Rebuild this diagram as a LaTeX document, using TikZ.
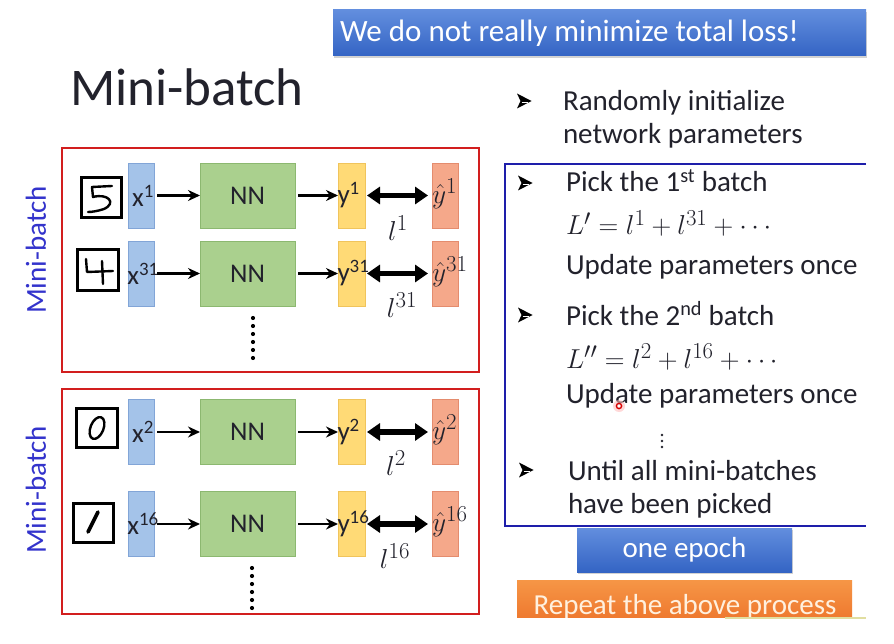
\documentclass[tikz,border=0pt]{standalone}
\usepackage{fontspec}
\setmainfont{Carlito}
\usetikzlibrary{arrows.meta,shadows}
\definecolor{xfill}{RGB}{164,195,233}
\definecolor{xline}{RGB}{130,165,215}
\definecolor{nfill}{RGB}{170,208,142}
\definecolor{nline}{RGB}{140,184,112}
\definecolor{yfill}{RGB}{255,218,118}
\definecolor{yline}{RGB}{240,196,92}
\definecolor{hfill}{RGB}{245,168,138}
\definecolor{hline}{RGB}{228,140,110}
\definecolor{tdark}{RGB}{34,34,44}
\definecolor{redbox}{RGB}{210,30,30}
\definecolor{bluebox}{RGB}{30,30,170}
\definecolor{mbblue}{RGB}{51,51,204}
\definecolor{titletop}{RGB}{98,142,222}
\definecolor{titlebot}{RGB}{52,100,196}
\definecolor{ortop}{RGB}{246,150,70}
\definecolor{orbot}{RGB}{236,112,40}
\definecolor{ortext}{RGB}{255,240,222}
\definecolor{edgeline}{RGB}{225,222,160}
\newcommand\mmath[1]{\scalebox{1.1}{\fontsize{24.88}{30}\selectfont$#1$}}
\newcommand\mbrow[4]{%
  \node[xbox] (#1x) at (141,#2) {};
  \node[lbl] (#1xt) at (143,#2) {x\textsuperscript{#3}};
  \node[nnbox] (#1n) at (247.5,#2) {NN};
  \node[ybox] (#1y) at (351.5,#2) {};
  \node[lbl, anchor=west] (#1yt) at (337.5,#2) {y\textsuperscript{#3}};
  \node[hbox] (#1h) at (445,#2) {};
  \node[lbl, anchor=west] (#1ht) at (432,#2-2) {\mmath{\hat{y}^{#3}}};
  \draw[sarrow] (#1x) -- (#1n);
  \draw[sarrow] (#1n) -- (#1y);
  \draw[darrow] (#1y) -- (#1h);
  \node[lbl] (#1l) at (#4) {\mmath{l^{#3}}};
}
\begin{document}
\begin{tikzpicture}[x=1pt,y=-1pt,
  every node/.style={inner sep=0pt, outer sep=0pt},
  xbox/.style={draw=xline, fill=xfill, line width=0.8pt, minimum width=26pt, minimum height=65pt},
  nnbox/.style={draw=nline, fill=nfill, line width=0.8pt, minimum width=95pt, minimum height=65pt, font=\fontsize{27}{30}\selectfont, text=tdark},
  ybox/.style={draw=yline, fill=yfill, line width=0.8pt, minimum width=27pt, minimum height=65pt},
  hbox/.style={draw=hline, fill=hfill, line width=0.8pt, minimum width=26pt, minimum height=65pt},
  lbl/.style={font=\fontsize{27}{30}\selectfont, text=tdark},
  sarrow/.style={-{Stealth[length=12pt,width=11pt]}, line width=2.2pt, shorten <=3pt},
  darrow/.style={{Triangle[length=13pt,width=17pt]}-{Triangle[length=13pt,width=17pt]}, line width=5.5pt, shorten <=2pt, shorten >=4pt},
  digbox/.style={draw=black, line width=3pt, minimum width=40pt, minimum height=40pt},
  digit/.style={line width=2.4pt, line cap=round, line join=round},
  frame/.style={line width=2.6pt},
  txt/.style={anchor=base west, font=\fontsize{29}{34}\selectfont, text=tdark},
  mathtxt/.style={anchor=base west, text=tdark},
  vlabel/.style={rotate=90, font=\fontsize{29}{34}\selectfont, text=mbblue},
  banner/.style={top color=titletop, bottom color=titlebot, draw=none, text=white, drop shadow={shadow xshift=1pt, shadow yshift=-2pt, opacity=0.35}},
  bul/.pic={\fill[black] (-7,-7.5) -- (7.5,0) -- (-7,7.5) -- (-3.5,0) -- cycle;
            \draw[white, line width=0.7pt] (-2.5,1.3) -- (4,1.3);}
]
\useasboundingbox (0,0) rectangle (894,644);
\fill[white] (0,0) rectangle (894,644);

% title banner
\node[banner, minimum width=533pt, minimum height=46pt] (title) at (599.5,33) {};
\node[anchor=west, font=\fontsize{31}{36}\selectfont, text=white] (titletext) at (340,33) {We do not really minimize total loss!};

% heading
\node[anchor=base west, font=\fontsize{53}{60}\selectfont, text=tdark] (heading) at (70,106) {Mini-batch};

% red frames
\draw[redbox, frame] (62,148) rectangle (479,372);
\draw[redbox, frame] (62,389) rectangle (479,614);

\node[vlabel] (mb1) at (36,250) {Mini-batch};
\node[vlabel] (mb2) at (36,490) {Mini-batch};

% digit boxes
\node[digbox] (d5) at (101,198) {};
\draw[digit] (112,186) -- (92,187) -- (93,197) .. controls (108,193) and (117,203) .. (104,209) .. controls (98,211) and (92,212) .. (88,212);
\node[digbox, minimum width=41pt, minimum height=41pt] (d4) at (97.5,270.5) {};
\draw[digit] (86,259) -- (87,272) -- (113,271);
\draw[digit] (102,261) -- (103,284);
\node[digbox, minimum width=41pt, minimum height=39pt] (d0) at (96.5,427.5) {};
\draw[digit, rotate around={-22:(97,428)}] (97,428) ellipse [x radius=6.5, y radius=11.5];
\node[digbox, minimum width=40pt, minimum height=39pt] (d1) at (93,522.5) {};
\draw[digit, line width=3.6pt] (98,512) -- (88,532);

% rows
\mbrow{a}{195.5}{1}{398,228}
\mbrow{b}{273.5}{31}{402,305}
\mbrow{c}{432}{2}{396,463}
\mbrow{d}{524}{16}{395,556}

% vertical dots
\foreach \yy in {318,326,...,358} \fill[black] (253,\yy) circle (2.1);
\foreach \yy in {568,576,...,608} \fill[black] (252,\yy) circle (2.1);

% right column
\pic at (524,101) {bul};
\node[txt] (r1) at (563,111) {Randomly initialize};
\node[txt] (r2) at (563,144) {network parameters};

\draw[bluebox, frame] (866,164) -- (505,164) -- (505,526) -- (866,526);

\pic at (525,183) {bul};
\node[txt] (p1) at (566,192) {Pick the 1\textsuperscript{st} batch};
\node[mathtxt] (m1) at (566,235) {\mmath{L' = l^1 + l^{31} + \cdots}};
\node[txt] (u1) at (566,275) {Update parameters once};
\pic at (525,315) {bul};
\node[txt] (p2) at (566,325) {Pick the 2\textsuperscript{nd} batch};
\node[mathtxt] (m2) at (566,368) {\mmath{L'' = l^2 + l^{16} + \cdots}};
\node[txt] (u2) at (566,403) {Update parameters once};
\foreach \yy in {435,441,447} \fill[tdark] (662,\yy) circle (1.4);
\pic at (526,470) {bul};
\node[txt] (t1) at (568,480) {Until all mini-batches};
\node[txt] (t2) at (568,513) {have been picked};

% cursor mark
\fill[red!25, opacity=0.6] (619,406) circle (6);
\draw[red!85!black, line width=1.4pt, fill=white] (619,406) circle (2.6);

% one epoch
\node[banner, minimum width=215pt, minimum height=44pt, font=\fontsize{29}{34}\selectfont] (epoch) at (684.5,550) {one epoch};

% repeat box (cut off)
\begin{scope}
\clip (505,576) rectangle (870,617);
\node[top color=ortop, bottom color=orbot, minimum width=335pt, minimum height=50pt] (rep) at (684.5,605) {};
\node[anchor=base, font=\fontsize{29}{34}\selectfont, text=ortext] (rept) at (685,614) {Repeat the above process};
\end{scope}
\draw[edgeline, line width=1.5pt] (725,618) -- (866,618);
\end{tikzpicture}
\end{document}
